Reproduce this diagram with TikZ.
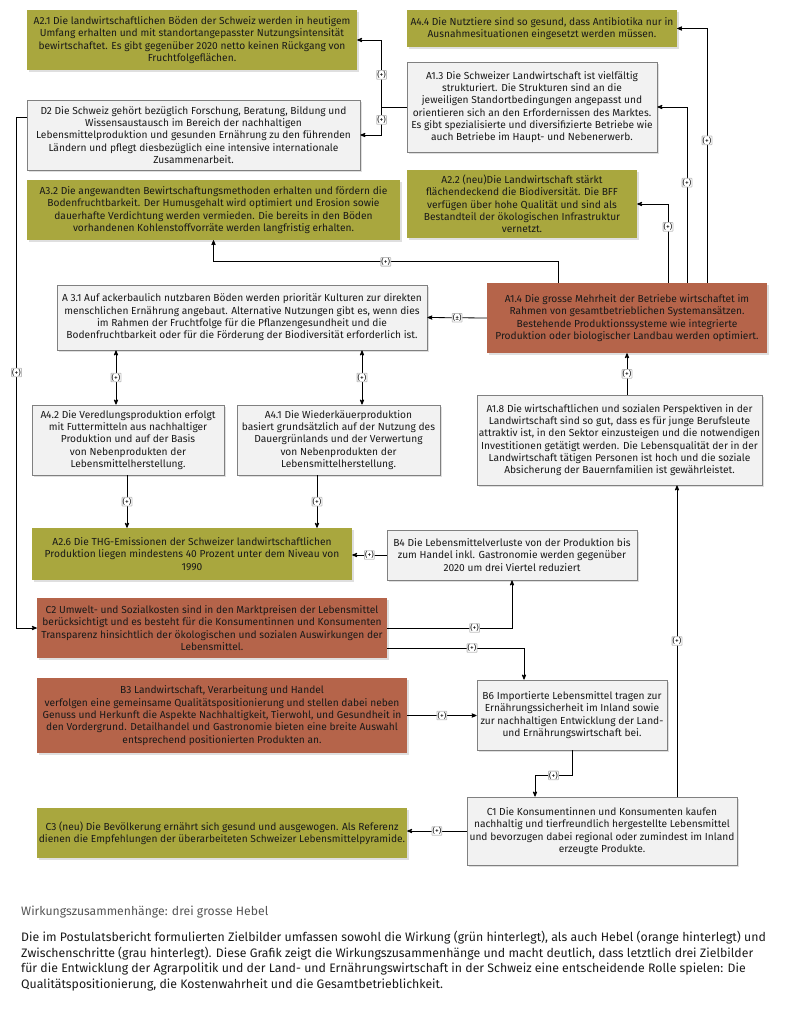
\documentclass[tikz,border=0pt]{standalone}
\usepackage{fontspec}
\setmainfont{Fira Sans}
\usepackage{tikz}
\usetikzlibrary{arrows,shadows}
\usetikzlibrary{calc}

\definecolor{zielgruen}{HTML}{A9A73E}
\definecolor{hebelorange}{HTML}{B5644A}
\definecolor{schrittgrau}{HTML}{F2F2F2}
\definecolor{randgrau}{HTML}{808080}
\definecolor{titelgrau}{HTML}{555555}

\begin{document}
\begin{tikzpicture}[x=1pt, y=-1pt, >=stealth',
	box/.style={align=center, inner sep=1pt, text=black!90,
		font=\fontsize{10.2}{12.3}\selectfont,
		drop shadow={shadow xshift=1.5pt, shadow yshift=-1.5pt, opacity=.25}},
	ziel/.style={box, fill=zielgruen},
	hebel/.style={box, fill=hebelorange},
	schritt/.style={box, fill=schrittgrau, draw=randgrau, line width=0.9pt},
	sign/.style={fill=white, draw=black!25, inner sep=0.6pt, rounded corners=0.5pt,
		font=\fontsize{7.5}{8}\selectfont},
	link/.style={line width=0.8pt}]
\useasboundingbox (0,0) rectangle (794,1020);

% Zielbilder, Hebel und Zwischenschritte
\node[ziel, minimum width=330pt, minimum height=60pt] (a21) at (192,40)
	{A2.1 Die landwirtschaftlichen Böden der Schweiz werden in heutigem\\
	Umfang erhalten und mit standortangepasster Nutzungsintensität\\
	bewirtschaftet. Es gibt gegenüber 2020 netto keinen Rückgang von\\
	Fruchtfolgeflächen.};
\node[ziel, minimum width=270pt, minimum height=37pt] (a44) at (542,28.5)
	{A4.4 Die Nutztiere sind so gesund, dass Antibiotika nur in\\
	Ausnahmesituationen eingesetzt werden müssen.};
\node[schritt, minimum width=250pt, minimum height=90pt] (a13) at (532,107)
	{A1.3 Die Schweizer Landwirtschaft ist vielfältig\\
	strukturiert. Die Strukturen sind an die\\
	jeweiligen Standortbedingungen angepasst und\\
	orientieren sich an den Erfordernissen des Marktes.\\
	Es gibt spezialisierte und diversifizierte Betriebe wie\\
	auch Betriebe im Haupt- und Nebenerwerb.};
\node[schritt, minimum width=333pt, minimum height=70pt] (d2) at (193.5,135)
	{D2 Die Schweiz gehört bezüglich Forschung, Beratung, Bildung und\\
	Wissensaustausch im Bereich der nachhaltigen\\
	Lebensmittelproduktion und gesunden Ernährung zu den führenden\\
	Ländern und pflegt diesbezüglich eine intensive internationale\\
	Zusammenarbeit.};
\node[ziel, minimum width=373pt, minimum height=60pt] (a32) at (213.5,210)
	{A3.2 Die angewandten Bewirtschaftungsmethoden erhalten und fördern die\\
	Bodenfruchtbarkeit. Der Humusgehalt wird optimiert und Erosion sowie\\
	dauerhafte Verdichtung werden vermieden. Die bereits in den Böden\\
	vorhandenen Kohlenstoffvorräte werden langfristig erhalten.};
\node[ziel, minimum width=230pt, minimum height=68pt] (a22) at (522,204)
	{A2.2 (neu)Die Landwirtschaft stärkt\\
	flächendeckend die Biodiversität. Die BFF\\
	verfügen über hohe Qualität und sind als\\
	Bestandteil der ökologischen Infrastruktur\\
	vernetzt.};
\node[schritt, minimum width=370pt, minimum height=65pt] (a31) at (242,317.5)
	{A 3.1 Auf ackerbaulich nutzbaren Böden werden prioritär Kulturen zur direkten\\
	menschlichen Ernährung angebaut. Alternative Nutzungen gibt es, wenn dies\\
	im Rahmen der Fruchtfolge für die Pflanzengesundheit und die\\
	Bodenfruchtbarkeit oder für die Förderung der Biodiversität erforderlich ist.};
\node[hebel, minimum width=280pt, minimum height=70pt] (a14) at (627,318)
	{A1.4 Die grosse Mehrheit der Betriebe wirtschaftet im\\
	Rahmen von gesamtbetrieblichen Systemansätzen.\\
	Bestehende Produktionssysteme wie integrierte\\
	Produktion oder biologischer Landbau werden optimiert.};
\node[schritt, minimum width=192pt, minimum height=70pt] (a42) at (128,440)
	{A4.2 Die Veredlungsproduktion erfolgt\\
	mit Futtermitteln aus nachhaltiger\\
	Produktion und auf der Basis\\
	von Nebenprodukten der\\
	Lebensmittelherstellung.};
\node[schritt, minimum width=203pt, minimum height=70pt] (a41) at (338.5,440)
	{A4.1 Die Wiederkäuerproduktion\\
	basiert grundsätzlich auf der Nutzung des\\
	Dauergrünlands und der Verwertung\\
	von Nebenprodukten der\\
	Lebensmittelherstellung.};
\node[schritt, minimum width=285pt, minimum height=90pt] (a18) at (619.5,440)
	{A1.8 Die wirtschaftlichen und sozialen Perspektiven in der\\
	Landwirtschaft sind so gut, dass es für junge Berufsleute\\
	attraktiv ist, in den Sektor einzusteigen und die notwendigen\\
	Investitionen getätigt werden. Die Lebensqualität der in der\\
	Landwirtschaft tätigen Personen ist hoch und die soziale\\
	Absicherung der Bauernfamilien ist gewährleistet.};
\node[ziel, minimum width=320pt, minimum height=52pt] (a26) at (192,554)
	{A2.6 Die THG-Emissionen der Schweizer landwirtschaftlichen\\
	Produktion liegen mindestens 40 Prozent unter dem Niveau von\\
	1990};
\node[schritt, minimum width=250pt, minimum height=50pt] (b4) at (512,555)
	{B4 Die Lebensmittelverluste von der Produktion bis\\
	zum Handel inkl. Gastronomie werden gegenüber\\
	2020 um drei Viertel reduziert};
\node[hebel, minimum width=350pt, minimum height=60pt] (c2) at (212,628)
	{C2 Umwelt- und Sozialkosten sind in den Marktpreisen der Lebensmittel\\
	berücksichtigt und es besteht für die Konsumentinnen und Konsumenten\\
	Transparenz hinsichtlich der ökologischen und sozialen Auswirkungen der\\
	Lebensmittel.};
\node[hebel, minimum width=370pt, minimum height=75pt] (b3) at (222,715.5)
	{B3 Landwirtschaft, Verarbeitung und Handel\\
	verfolgen eine gemeinsame Qualitätspositionierung und stellen dabei neben\\
	Genuss und Herkunft die Aspekte Nachhaltigkeit, Tierwohl, und Gesundheit in\\
	den Vordergrund. Detailhandel und Gastronomie bieten eine breite Auswahl\\
	entsprechend positionierten Produkten an.};
\node[schritt, minimum width=190pt, minimum height=70pt] (b6) at (572,715)
	{B6 Importierte Lebensmittel tragen zur\\
	Ernährungssicherheit im Inland sowie\\
	zur nachhaltigen Entwicklung der Land-\\
	und Ernährungswirtschaft bei.};
\node[schritt, minimum width=270pt, minimum height=68pt] (c1) at (602,831)
	{C1 Die Konsumentinnen und Konsumenten kaufen\\
	nachhaltig und tierfreundlich hergestellte Lebensmittel\\
	und bevorzugen dabei regional oder zumindest im Inland\\
	erzeugte Produkte.};
\node[ziel, minimum width=370pt, minimum height=50pt] (c3) at (222,833)
	{C3 (neu) Die Bevölkerung ernährt sich gesund und ausgewogen. Als Referenz\\
	dienen die Empfehlungen der überarbeiteten Schweizer Lebensmittelpyramide.};

% Wirkungen
\draw[link,->] (a13.west) -- ++(-25,0) |- node[sign, pos=0.24] {(+)} (a21.east);
\draw[link,->] (a13.west) -- ++(-25,0) |- node[sign, pos=0.23] {(+)} (d2.east);
\draw[link,->] ([xshift=80pt]a14.north) |- node[sign, pos=0.28] {(+)} (a44.east);
\draw[link,->] ([xshift=60pt]a14.north) |- node[sign, pos=0.285] {(+)} (a13.east);
\draw[link,->] ([xshift=41pt]a14.north) |- node[sign, pos=0.355] {(+)} (a22.east);
\draw[link,->] ([xshift=-69pt]a14.north) -- ++(0,-21) -| node[sign, pos=0.25] {(+)} (a32.south);
\path[link,->]
(a14.west) edge node[sign] {(±)} (a31.east)
(a18.north -| a14.south) edge node[sign] {(+)} (a14.south)
([xshift=75pt]c1.north) edge node[sign] {(+)} ([xshift=75pt]c1.north |- a18.south)
(b4.west) edge node[sign] {(+)} (b4.west -| a26.east)
(b3.east) edge node[sign] {(+)} (b3.east -| b6.west)
(c1.west) edge node[sign] {(+)} (c1.west -| c3.east)
;
\path[link,<->]
([xshift=-12pt]a42.north |- a31.south) edge node[sign] {(+)} ([xshift=-12pt]a42.north)
([xshift=23.5pt]a41.north |- a31.south) edge node[sign] {(+)} ([xshift=23.5pt]a41.north)
;
\path[link,->]
([xshift=-1pt]a42.south) edge node[sign] {(+)} ([xshift=-1pt]a42.south |- a26.north)
([xshift=-21.5pt]a41.south) edge node[sign] {(+)} ([xshift=-21.5pt]a41.south |- a26.north)
;
\draw[link,->] (c2.east) -| node[sign, pos=0.35] {(+)} (b4.south);
\draw[link,->] ([yshift=-20pt]c2.east) -| node[sign, pos=0.31] {(+)} ([xshift=-48pt]b6.north);
\draw[link,->] (b6.south) -- ++(0,25) -| node[sign, pos=0.25] {(+)} ([xshift=-67pt]c1.north);
\draw[link,->] ([yshift=18pt]d2.west) -- ++(-10,0) |- node[sign, pos=0.25] {(+)} (c2.west);

% Legende
\node[anchor=west, inner sep=0pt, text=titelgrau, font=\fontsize{12.2}{14}\selectfont] (titel) at (21,912)
	{Wirkungszusammenhänge: drei grosse Hebel};
\node[anchor=north west, align=left, inner sep=0pt, text=black!90,
	font=\fontsize{12.3}{15.6}\selectfont] (legende) at (21,931)
	{Die im Postulatsbericht formulierten Zielbilder umfassen sowohl die Wirkung (grün hinterlegt), als auch Hebel (orange hinterlegt) und\\
	Zwischenschritte (grau hinterlegt). Diese Grafik zeigt die Wirkungszusammenhänge und macht deutlich, dass letztlich drei Zielbilder\\
	für die Entwicklung der Agrarpolitik und der Land- und Ernährungswirtschaft in der Schweiz eine entscheidende Rolle spielen: Die\\
	Qualitätspositionierung, die Kostenwahrheit und die Gesamtbetrieblichkeit.};
\end{tikzpicture}
\end{document}
